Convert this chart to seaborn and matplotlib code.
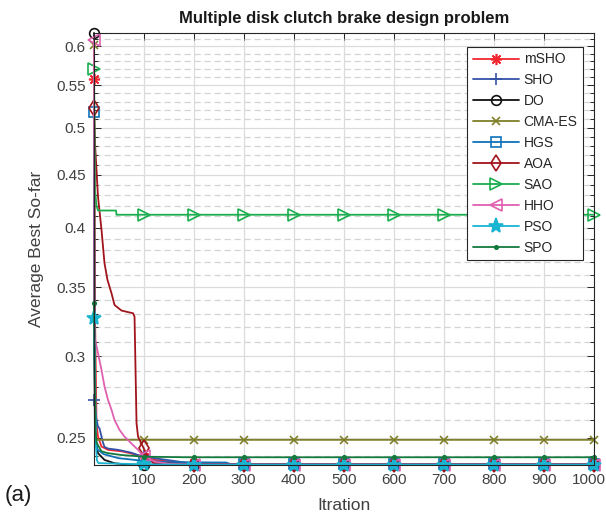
import numpy as np
import pandas as pd
import matplotlib
matplotlib.use("Agg")
import matplotlib.pyplot as plt
from matplotlib.ticker import FixedLocator, FixedFormatter, NullFormatter
from matplotlib.transforms import ScaledTranslation
import seaborn as sns

# ---- convergence data (iteration, average best so-far) ----
tail_it = [200, 300, 400, 500, 600, 700, 800, 900, 1000]

mSHO_it = [1, 3, 6, 9, 16, 29, 56, 76, 100, 122, 160] + tail_it
mSHO_val = [0.557, 0.33, 0.2582, 0.2506, 0.2451, 0.2433, 0.2425, 0.2413, 0.2395, 0.2379,
            0.2368, 0.2362, 0.2354, 0.2354, 0.2354, 0.2354, 0.2354, 0.2354, 0.2354, 0.2354]

SHO_it = [1, 5, 9, 12, 16, 19, 22, 29, 49, 75, 89, 100, 122, 170] + tail_it
SHO_val = [0.272, 0.262, 0.2563, 0.2553, 0.2506, 0.2473, 0.2449, 0.2440, 0.2433, 0.2418,
           0.2405, 0.2400, 0.2388, 0.2370, 0.2357, 0.2355, 0.2355, 0.2355, 0.2355, 0.2355,
           0.2355, 0.2355, 0.2355]

DO_it = [1, 2, 3, 9, 22, 42, 69, 100] + tail_it
DO_val = [0.618, 0.30, 0.2488, 0.2415, 0.2379, 0.2361, 0.2354, 0.2354, 0.2354, 0.2354,
          0.2354, 0.2354, 0.2354, 0.2354, 0.2354, 0.2354, 0.2354]

CMAES_it = [1, 2, 3, 100] + tail_it
CMAES_val = [0.602, 0.32, 0.2488, 0.2488, 0.2488, 0.2488, 0.2488, 0.2488, 0.2488, 0.2488,
             0.2488, 0.2488, 0.2488]

HGS_it = [1, 2, 4, 8, 20, 50, 100, 150, 265, 275, 300, 400, 500, 600, 700, 800, 900, 1000]
HGS_val = [0.518, 0.30, 0.252, 0.2435, 0.2410, 0.2388, 0.2374, 0.2367, 0.2365, 0.2356,
           0.2355, 0.2355, 0.2355, 0.2355, 0.2355, 0.2355, 0.2355, 0.2355]

AOA_it = [1, 3, 9, 16, 22, 28, 36, 42, 56, 79, 82, 86, 89, 100, 110, 120] + tail_it
AOA_val = [0.522, 0.483, 0.4286, 0.398, 0.3693, 0.3557, 0.3453, 0.3364, 0.3322, 0.3302,
           0.3277, 0.2582, 0.2506, 0.2443, 0.2385, 0.2362, 0.2356, 0.2356, 0.2356, 0.2356,
           0.2356, 0.2356, 0.2356, 0.2356, 0.2356]

SAO_it = [1, 2, 3, 6, 9, 45, 46, 100] + tail_it
SAO_val = [0.570, 0.50, 0.435, 0.420, 0.4155, 0.4155, 0.4116, 0.4116, 0.4116, 0.4116,
           0.4116, 0.4116, 0.4116, 0.4116, 0.4116, 0.4116, 0.4116]

HHO_it = [1, 2, 9, 16, 22, 29, 36, 42, 52, 62, 75, 89, 100, 122, 150] + tail_it
HHO_val = [0.608, 0.3134, 0.302, 0.2909, 0.2803, 0.2721, 0.2661, 0.2601, 0.2544, 0.2506,
           0.2470, 0.2433, 0.2400, 0.2370, 0.2358, 0.2354, 0.2354, 0.2354, 0.2354, 0.2354,
           0.2354, 0.2354, 0.2354, 0.2354]

PSO_it = [1, 3, 5, 7, 10, 100] + tail_it
PSO_val = [0.327, 0.29, 0.245, 0.2375, 0.2362, 0.2355, 0.2354, 0.2354, 0.2354, 0.2354,
           0.2354, 0.2354, 0.2354, 0.2354, 0.2354]

SPO_it = [1, 2, 4, 6, 16, 29, 56, 96, 100, 189] + tail_it
SPO_val = [0.338, 0.30, 0.255, 0.2473, 0.2425, 0.2415, 0.2405, 0.2397, 0.2396, 0.2393,
           0.2393, 0.2393, 0.2393, 0.2393, 0.2393, 0.2393, 0.2393, 0.2393, 0.2393]

marker_iters = [1, 100, 200, 300, 400, 500, 600, 700, 800, 900, 1000]

y_major = [0.25, 0.3, 0.35, 0.4, 0.45, 0.5, 0.55, 0.6]
y_major_labels = ["0.25", "0.3", "0.35", "0.4", "0.45", "0.5", "0.55", "0.6"]
x_ticks = [100, 200, 300, 400, 500, 600, 700, 800, 900, 1000]

# name, iterations, values, colour, marker, filled marker, marker size
series = [
    ("mSHO", mSHO_it, mSHO_val, "#f2262f", (8, 2, 0), False, 8),
    ("SHO", SHO_it, SHO_val, "#3452a8", "+", False, 8),
    ("DO", DO_it, DO_val, "#111111", "o", False, 7),
    ("CMA-ES", CMAES_it, CMAES_val, "#7f7f2a", "x", False, 6),
    ("HGS", HGS_it, HGS_val, "#0f72b8", "s", False, 6.5),
    ("AOA", AOA_it, AOA_val, "#a2141c", "d", False, 8),
    ("SAO", SAO_it, SAO_val, "#1aae4e", ">", False, 8),
    ("HHO", HHO_it, HHO_val, "#e060b0", "<", False, 8),
    ("PSO", PSO_it, PSO_val, "#18b4d2", "*", True, 11),
    ("SPO", SPO_it, SPO_val, "#137a3e", ".", True, 5),
]

sns.set_theme(style="ticks")
plt.rcParams["font.family"] = ["Liberation Sans", "DejaVu Sans"]
plt.rcParams["xtick.direction"] = "in"
plt.rcParams["ytick.direction"] = "in"

fig = plt.figure(figsize=(6.06, 5.17), dpi=100)
ax = fig.add_axes([0.1551, 0.1006, 0.8251, 0.8356])

for name, its, vals, col, mk, filled, ms in series:
    df = pd.DataFrame({"Iteration": its, "Value": vals})
    idx = [i for i, v in enumerate(its) if v in marker_iters]
    sns.lineplot(data=df, x="Iteration", y="Value", ax=ax, color=col, lw=1.3,
                 marker=mk, markersize=ms, markevery=idx,
                 markerfacecolor=(col if filled else "none"),
                 markeredgecolor=col, markeredgewidth=1.2,
                 estimator=None, sort=False, label=name, legend=False, clip_on=False)

ax.set_yscale("log")
ax.set_xlim(1, 1000)
ax.set_ylim(0.2352, 0.618)

ax.yaxis.set_major_locator(FixedLocator(y_major))
ax.yaxis.set_major_formatter(FixedFormatter(y_major_labels))
minor_vals = [round(v, 2) for v in np.arange(0.24, 0.615, 0.01)]
minor_vals = [v for v in minor_vals if all(abs(v - m) > 1e-6 for m in y_major)]
ax.yaxis.set_minor_locator(FixedLocator(minor_vals))
ax.yaxis.set_minor_formatter(NullFormatter())
ax.set_xticks(x_ticks)
ax.set_xticklabels([str(t) for t in x_ticks])

ax.grid(True, which="major", color="#dcdcdc", lw=0.9, ls="-")
ax.grid(True, which="minor", axis="y", color="#d4d4d4", lw=0.9, ls=(0, (5, 3)))
ax.set_axisbelow(True)

for s in ax.spines.values():
    s.set_color("#262626")
    s.set_linewidth(0.8)
ax.tick_params(which="both", top=True, right=True, colors="#262626",
               labelcolor="#404040", labelsize=11, width=0.7)
ax.tick_params(which="major", length=5, pad=6)
ax.tick_params(which="minor", length=3)

# keep the last x tick label inside the figure edge
last_lbl = ax.get_xticklabels()[-1]
last_lbl.set_transform(last_lbl.get_transform() +
                       ScaledTranslation(-5 / 100, 0, fig.dpi_scale_trans))

ax.set_title("Multiple disk clutch brake design problem", fontsize=12,
             fontweight="bold", color="#1a1a1a", pad=7)
ax.set_xlabel("Itration", fontsize=12.5, color="#404040", labelpad=8)
ax.set_ylabel("Average Best So-far", fontsize=12.5, color="#404040", labelpad=9)
fig.text(0.008, 0.03, "(a)", fontsize=16, color="#1a1a1a")

handles = ax.get_lines()[:len(series)]
leg = ax.legend(handles=handles, labels=[s[0] for s in series],
                loc="upper right", bbox_to_anchor=(0.978, 0.968), borderaxespad=0,
                fontsize=10, numpoints=1, handlelength=3.3, handletextpad=0.35,
                labelspacing=0.5, borderpad=0.4, fancybox=False, framealpha=1,
                edgecolor="#262626")
leg.get_frame().set_linewidth(0.8)

fig.savefig("out.png", dpi=100)
